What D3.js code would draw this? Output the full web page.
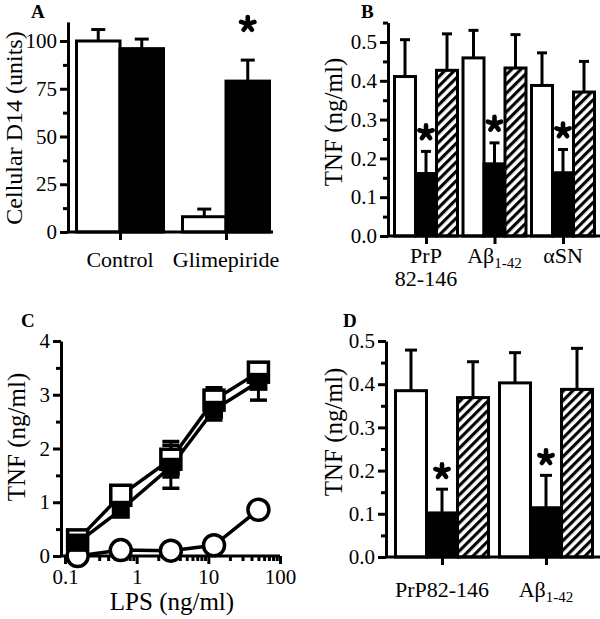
<!DOCTYPE html>
<html><head><meta charset="utf-8">
<script src="https://cdn.jsdelivr.net/npm/d3@7"></script>
<style>body{margin:0;background:#fff}svg{display:block}</style>
</head><body><svg width="600" height="619"></svg>
<script>
// ---------- DATA ----------
// Panel A
const aCategories = ["Control", "Glimepiride"];
const aWhite = [100, 8];
const aWhiteErr = [6, 4];
const aBlack = [96, 79];
const aBlackErr = [5, 11];
const aSig = [false, true];
const aYTicks = [0, 25, 50, 75, 100];
const aYMinor = [12.5, 37.5, 62.5, 87.5];

// Panel B
const bCategories = ["PrP 82-146", "Aβ1-42", "αSN"];
const bLabelLines = [["PrP", "82-146"], ["Aβ_1-42"], ["αSN"]];
const bWhite = [0.411, 0.459, 0.388];
const bWhiteErr = [0.095, 0.071, 0.084];
const bBlack = [0.161, 0.186, 0.163];
const bBlackErr = [0.057, 0.054, 0.060];
const bHatch = [0.427, 0.433, 0.371];
const bHatchErr = [0.094, 0.086, 0.079];
const bSig = [true, true, true];
const bYTicks = [0, 0.1, 0.2, 0.3, 0.4, 0.5];
const bYMinor = [0.05, 0.15, 0.25, 0.35, 0.45, 0.55];

// Panel C
const cLPS = [0.15, 0.6, 3, 12, 50];
const cOpenSq = [0.30, 1.13, 1.80, 2.90, 3.42];
const cOpenSqErr = [0.10, 0.08, 0.33, 0.23, 0.17];
const cFilledSq = [0.25, 0.86, 1.66, 2.72, 3.24];
const cFilledSqErr = [0.08, 0.10, 0.40, 0.19, 0.34];
const cCircle = [0.0, 0.11, 0.10, 0.20, 0.86];
const cYTicks = [0, 1, 2, 3, 4];
const cYMinor = [0.5, 1.5, 2.5, 3.5];
const cXTicks = [0.1, 1, 10, 100];
const cXTickLabels = ["0.1", "1", "10", "100"];

// Panel D
const dCategories = ["PrP82-146", "Aβ1-42"];
const dLabelLines = [["PrP82-146"], ["Aβ_1-42"]];
const dWhite = [0.385, 0.403];
const dWhiteErr = [0.094, 0.070];
const dBlack = [0.102, 0.114];
const dBlackErr = [0.055, 0.075];
const dHatch = [0.369, 0.388];
const dHatchErr = [0.083, 0.095];
const dSig = [true, true];
const dYTicks = [0, 0.1, 0.2, 0.3, 0.4, 0.5];
const dYMinor = [0.05, 0.15, 0.25, 0.35, 0.45];

// ---------- DRAWING ----------
const SERIF = '"Liberation Serif","Times New Roman",serif';
const F_TICK = 21, F_CAT = 22, F_TITLE = 25, SW = 3;
const svg = d3.select("svg");

const defs = svg.append("defs");
const pat = defs.append("pattern").attr("id", "hatch")
  .attr("patternUnits", "userSpaceOnUse").attr("width", 6.6).attr("height", 6.6)
  .attr("patternTransform", "rotate(45)");
pat.append("rect").attr("width", 6.6).attr("height", 6.6).attr("fill", "#fff");
pat.append("line").attr("x1", 1.6).attr("x2", 1.6).attr("y1", -1).attr("y2", 8)
  .attr("stroke", "#000").attr("stroke-width", 3.1);

// five-armed asterisk path, centred on 0,0
const starPath = (() => {
  const r = 7;
  let p = "";
  for (let k = 0; k < 5; k++) {
    const a = -Math.PI / 2 + k * 2 * Math.PI / 5;
    p += `M0,0L${(r * Math.cos(a)).toFixed(2)},${(r * Math.sin(a)).toFixed(2)}`;
  }
  return p;
})();

function styleAxis(g, fs) {
  g.attr("font-family", SERIF).attr("font-size", fs);
  g.selectAll("path,line").attr("stroke", "#000").attr("stroke-width", SW);
  g.selectAll("text").attr("fill", "#000");
}

function yAxis(x, scale, majors, minors, fmt) {
  const g = svg.append("g").attr("transform", `translate(${x},0)`);
  g.call(d3.axisLeft(scale).tickValues(majors).tickFormat(fmt).tickSize(8).tickSizeOuter(0).tickPadding(3));
  styleAxis(g, F_TICK);
  const m = svg.append("g").attr("transform", `translate(${x},0)`);
  m.call(d3.axisLeft(scale).tickValues(minors).tickFormat("").tickSize(5).tickSizeOuter(0));
  m.select(".domain").remove();
  styleAxis(m, F_TICK);
}

function yTitle(text, x, y, fs) {
  svg.append("text").attr("transform", `translate(${x},${y}) rotate(-90)`)
    .attr("text-anchor", "middle").attr("font-family", SERIF).attr("font-size", fs || F_TITLE)
    .text(text);
}

function panelLabel(t, x, y) {
  svg.append("text").attr("x", x).attr("y", y).attr("font-family", SERIF)
    .attr("font-weight", "bold").attr("font-size", 19).text(t);
}

function catLabel(x, y, lines) {
  lines.forEach((ln, j) => {
    const t = svg.append("text").attr("x", x).attr("y", y + j * 23)
      .attr("text-anchor", "middle").attr("font-family", SERIF).attr("font-size", F_CAT);
    const parts = ln.split("_");
    t.append("tspan").text(parts[0]);
    if (parts[1]) t.append("tspan").attr("font-size", 15).attr("dy", 5).text(parts[1]);
  });
}

function barPanel(o) {
  const ys = o.y, xs = o.x, n = o.series.length, w = o.barW;
  const g = svg.append("g");
  o.series.forEach((s, k) => {
    const off = (k - n / 2) * w;
    g.selectAll(null).data(o.cats).join("rect")
      .attr("x", d => xs(d) + off)
      .attr("y", (d, i) => ys(s.values[i]))
      .attr("width", w)
      .attr("height", (d, i) => ys(0) - ys(s.values[i]))
      .attr("fill", s.fill).attr("stroke", "#000").attr("stroke-width", SW);
  });
  o.series.forEach((s, k) => {
    const cx = d => xs(d) + (k - n / 2 + 0.5) * w;
    g.selectAll(null).data(o.cats).join("line")
      .attr("x1", cx).attr("x2", cx)
      .attr("y1", (d, i) => ys(s.values[i]))
      .attr("y2", (d, i) => ys(s.values[i] + s.errs[i]))
      .attr("stroke", "#000").attr("stroke-width", SW);
    g.selectAll(null).data(o.cats).join("line")
      .attr("x1", d => cx(d) - o.capW / 2).attr("x2", d => cx(d) + o.capW / 2)
      .attr("y1", (d, i) => ys(s.values[i] + s.errs[i]))
      .attr("y2", (d, i) => ys(s.values[i] + s.errs[i]))
      .attr("stroke", "#000").attr("stroke-width", SW);
    if (s.sig) {
      g.selectAll(null).data(o.cats).join("path")
        .filter((d, i) => s.sig[i])
        .attr("transform", (d, i) => `translate(${cx(d)},${ys(s.values[i] + s.errs[i]) - o.sigGap})`)
        .attr("d", starPath)
        .attr("fill", "none").attr("stroke", "#000").attr("stroke-width", 4.6)
        .attr("stroke-linecap", "round");
    }
  });
  yAxis(o.axisX, ys, o.majors, o.minors, o.fmt);
  svg.append("line").attr("x1", o.axisX).attr("x2", o.xEnd)
    .attr("y1", ys(0)).attr("y2", ys(0)).attr("stroke", "#000").attr("stroke-width", SW);
  const xg = svg.append("g").attr("transform", `translate(0,${ys(0)})`);
  xg.call(d3.axisBottom(xs).tickSize(8).tickFormat(""));
  xg.select(".domain").remove();
  styleAxis(xg, F_TICK);
}

// ----- Panel A -----
const yA = d3.scaleLinear().domain([0, 110]).range([232, 21.9]);
const xA = d3.scalePoint().domain(aCategories).range([120, 226]);
barPanel({
  y: yA, x: xA, cats: aCategories, barW: 43.5, capW: 14, sigGap: 15,
  series: [
    {values: aWhite, errs: aWhiteErr, fill: "#fff"},
    {values: aBlack, errs: aBlackErr, fill: "#000", sig: aSig}
  ],
  axisX: 68, xEnd: 273, majors: aYTicks, minors: aYMinor, fmt: d3.format("d")
});
aCategories.forEach(c => catLabel(xA(c), 267, [c]));
yTitle("Cellular D14 (units)", 22, 128, 24);
panelLabel("A", 31, 18);

// ----- Panel B -----
const yB = d3.scaleLinear().domain([0, 0.55]).range([236, 22.6]);
const xB = d3.scalePoint().domain(bCategories).range([426, 563]);
barPanel({
  y: yB, x: xB, cats: bCategories, barW: 21, capW: 10, sigGap: 19,
  series: [
    {values: bWhite, errs: bWhiteErr, fill: "#fff"},
    {values: bBlack, errs: bBlackErr, fill: "#000", sig: bSig},
    {values: bHatch, errs: bHatchErr, fill: "url(#hatch)"}
  ],
  axisX: 388, xEnd: 600, majors: bYTicks, minors: bYMinor, fmt: d3.format(".1f")
});
bCategories.forEach((c, i) => catLabel(xB(c), 263, bLabelLines[i]));
yTitle("TNF (ng/ml)", 342, 122);
panelLabel("B", 361, 18);

// ----- Panel C -----
const yC = d3.scaleLinear().domain([0, 4]).range([556, 341]);
const xC = d3.scaleLog().domain([0.1, 100]).range([65, 280]);
const cAxisX = 61;
yAxis(cAxisX, yC, cYTicks, cYMinor, d3.format("d"));
svg.append("line").attr("x1", cAxisX).attr("x2", xC(100)).attr("y1", yC(0)).attr("y2", yC(0))
  .attr("stroke", "#000").attr("stroke-width", SW);
const cxg = svg.append("g").attr("transform", `translate(0,${yC(0)})`);
cxg.call(d3.axisBottom(xC).tickValues(cXTicks).tickFormat((d, i) => cXTickLabels[i]).tickSize(8).tickPadding(5));
cxg.select(".domain").remove();
styleAxis(cxg, F_TICK);
const cMinor = [];
cXTicks.slice(0, -1).forEach(dec => { for (let k = 2; k <= 9; k++) cMinor.push(dec * k); });
const cmg = svg.append("g").attr("transform", `translate(0,${yC(0)})`);
cmg.call(d3.axisBottom(xC).tickValues(cMinor).tickFormat("").tickSize(5));
cmg.select(".domain").remove();
styleAxis(cmg, F_TICK);

const line = d3.line().x(d => xC(d[0])).y(d => yC(d[1]));
const zip = arr => cLPS.map((x, i) => [x, arr[i]]);
const cg = svg.append("g");
[cCircle, cOpenSq, cFilledSq].forEach(arr => {
  cg.append("path").datum(zip(arr)).attr("d", line).attr("fill", "none")
    .attr("stroke", "#000").attr("stroke-width", 3.5);
});
[[cOpenSq, cOpenSqErr], [cFilledSq, cFilledSqErr]].forEach(([v, e]) => {
  cLPS.forEach((x, i) => {
    const px = xC(x);
    const yt = yC(v[i] + e[i]), yb = yC(v[i] - e[i]);
    cg.append("line").attr("x1", px).attr("x2", px).attr("y1", yt).attr("y2", yb)
      .attr("stroke", "#000").attr("stroke-width", SW);
    [yt, yb].forEach(yy => cg.append("line").attr("x1", px - 8.5).attr("x2", px + 8.5)
      .attr("y1", yy).attr("y2", yy).attr("stroke", "#000").attr("stroke-width", 3.5));
  });
});
cg.selectAll(null).data(zip(cCircle)).join("circle")
  .attr("cx", d => xC(d[0])).attr("cy", d => yC(d[1])).attr("r", 10.5)
  .attr("fill", "#fff").attr("stroke", "#000").attr("stroke-width", 3.5);
cg.selectAll(null).data(zip(cOpenSq)).join("rect")
  .attr("x", d => xC(d[0]) - 10).attr("y", d => yC(d[1]) - 10).attr("width", 20).attr("height", 20)
  .attr("fill", "#fff").attr("stroke", "#000").attr("stroke-width", 3.5);
cg.selectAll(null).data(zip(cFilledSq)).join("rect")
  .attr("x", d => xC(d[0]) - 9).attr("y", d => yC(d[1]) - 9).attr("width", 18).attr("height", 18)
  .attr("fill", "#000");
svg.append("text").attr("x", 172).attr("y", 610).attr("text-anchor", "middle")
  .attr("font-family", SERIF).attr("font-size", F_TITLE).text("LPS (ng/ml)");
yTitle("TNF (ng/ml)", 25, 437);
panelLabel("C", 21, 327);

// ----- Panel D -----
const yD = d3.scaleLinear().domain([0, 0.5]).range([557, 341]);
const xD = d3.scalePoint().domain(dCategories).range([442, 546]);
barPanel({
  y: yD, x: xD, cats: dCategories, barW: 31, capW: 12, sigGap: 18,
  series: [
    {values: dWhite, errs: dWhiteErr, fill: "#fff"},
    {values: dBlack, errs: dBlackErr, fill: "#000", sig: dSig},
    {values: dHatch, errs: dHatchErr, fill: "url(#hatch)"}
  ],
  axisX: 386, xEnd: 600, majors: dYTicks, minors: dYMinor, fmt: d3.format(".1f")
});
dCategories.forEach((c, i) => catLabel(xD(c), 597, dLabelLines[i]));
yTitle("TNF (ng/ml)", 342, 432);
panelLabel("D", 343, 327);
</script></body></html>
